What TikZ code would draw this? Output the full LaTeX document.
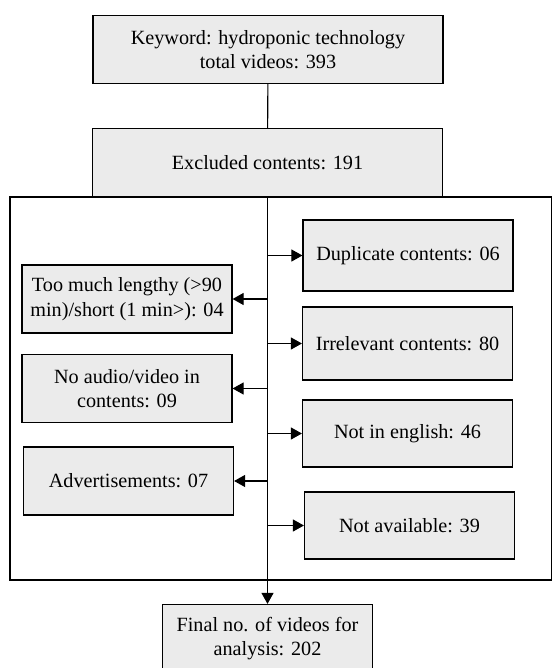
\documentclass[tikz,border=0pt]{standalone}
\usepackage{fontspec}
\setmainfont{Liberation Serif}
\usetikzlibrary{arrows.meta}
\definecolor{boxgray}{HTML}{EBEBEB}
\newcommand{\bw}{105pt}

\begin{document}
\begin{tikzpicture}[x=0.5pt, y=-0.5pt,
    box/.style={draw, rectangle, fill=boxgray, line width=0.6pt, minimum width=\bw, minimum height=34pt, align=center, inner sep=2pt, font=\fontsize{10.1}{12.3}\selectfont},
    link/.style={line width=0.55pt},
    arr/.style={line width=0.55pt, -{Triangle[length=5.5pt, width=6pt]}}]
    \useasboundingbox (0,0) rectangle (552,668);
    \begin{scope}
    \clip (0,0) rectangle (552,668);

    % Main column
    \node[box, minimum width=175pt] (keyword) at (268,49.5) {Keyword: hydroponic technology\\total videos: 393};
    \node[box, minimum width=175pt] (excluded) at (267.5,162.5) {Excluded contents: 191};
    \node[box] (final) at (267.5,638.5) {Final no. of videos for\\analysis: 202};

    % Frame
    \draw[link] (10,197) rectangle (551.5,580);

    % Right column
    \node[box, minimum height=35.5pt] (duplicate) at (408,255.5) {Duplicate contents: 06};
    \node[box, minimum height=36.5pt] (irrelevant) at (407.5,343.5) {Irrelevant contents: 80};
    \node[box, minimum height=33.5pt] (english) at (407.5,433.5) {Not in english: 46};
    \node[box, minimum height=33.5pt] (available) at (409.5,525.5) {Not available: 39};

    % Left column
    \node[box] (lengthy) at (127,299) {Too much lengthy (>90\\min)/short (1 min>): 04};
    \node[box] (audio) at (127,388.5) {No audio/video in\\contents: 09};
    \node[box] (advert) at (128.5,481) {Advertisements: 07};

    % Connectors
    \draw[link] (keyword) -- (excluded);
    \draw[arr] (excluded) -- (final);
    \foreach \n in {duplicate, irrelevant, english, available}
        \draw[arr] (excluded.south |- \n.west) -- (\n.west);
    \foreach \n in {lengthy, audio, advert}
        \draw[arr] (excluded.south |- \n.east) -- (\n.east);
    \end{scope}
\end{tikzpicture}
\end{document}
